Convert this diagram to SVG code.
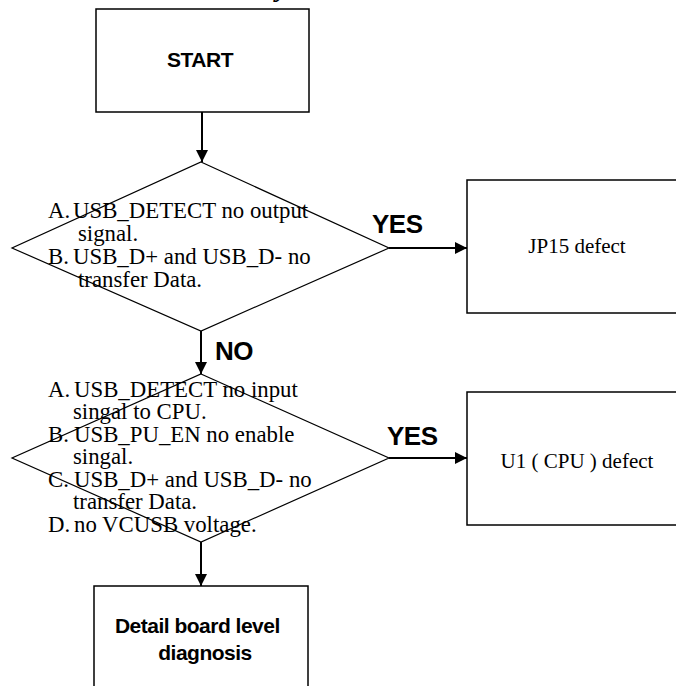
<svg xmlns="http://www.w3.org/2000/svg" width="676" height="686" viewBox="0 0 676 686">
<defs>
<marker id="ah" viewBox="0 0 10 10" refX="10" refY="5" markerWidth="6" markerHeight="6" markerUnits="strokeWidth" orient="auto">
<path d="M0,0 L10,5 L0,10 z" fill="#000"/>
</marker>
</defs>
<style>
.box{fill:#fff;stroke:#000;stroke-width:1.5}
.dia{fill:#fff;stroke:#000;stroke-width:1.2}
.conn{fill:none;stroke:#000;stroke-width:2;marker-end:url(#ah)}
.bold{font-family:"Liberation Sans",Arial,sans-serif;font-weight:bold;fill:#000}
.serif{font-family:"Liberation Serif","Times New Roman",serif;fill:#000}
</style>
<rect width="676" height="686" fill="#fff"/>
<text class="serif" x="276" y="-4" font-size="28" font-weight="bold" font-style="italic">y</text>
<g id="connectors">
<line class="conn" x1="202" y1="112" x2="202" y2="162"/>
<line class="conn" x1="389" y1="248" x2="467" y2="248"/>
<line class="conn" x1="201" y1="331" x2="201" y2="374"/>
<line class="conn" x1="389" y1="458" x2="467" y2="458"/>
<line class="conn" x1="201" y1="542" x2="201" y2="586"/>
<text class="bold" x="372" y="233" font-size="26" letter-spacing="-0.5">YES</text>
<text class="bold" x="215" y="360" font-size="26" letter-spacing="-0.5">NO</text>
<text class="bold" x="387" y="445" font-size="26" letter-spacing="-0.5">YES</text>
</g>
<g id="start">
<rect class="box" x="96" y="9" width="213" height="103"/>
<text class="bold" x="200" y="67" font-size="21" text-anchor="middle" letter-spacing="-0.5">START</text>
</g>
<g id="decision1">
<polygon class="dia" points="201,162 389,248 201,331 12,248"/>
<text class="serif" font-size="22.8">
<tspan x="48" y="218">A.</tspan><tspan x="73" y="218">USB_DETECT no output</tspan>
<tspan x="78" y="241">signal.</tspan>
<tspan x="48" y="264">B.</tspan><tspan x="73" y="264">USB_D+ and USB_D- no</tspan>
<tspan x="78" y="287">transfer Data.</tspan>
</text>
</g>
<g id="jp15">
<rect class="box" x="467" y="180" width="215" height="133"/>
<text class="serif" x="577" y="253" font-size="21" text-anchor="middle">JP15 defect</text>
</g>
<g id="decision2">
<polygon class="dia" points="201,374 389,458 201,542 12,458"/>
<text class="serif" font-size="22.8">
<tspan x="48" y="397">A.</tspan><tspan x="74" y="397">USB_DETECT no input</tspan>
<tspan x="73" y="419">singal to CPU.</tspan>
<tspan x="48" y="442">B.</tspan><tspan x="74" y="442">USB_PU_EN no enable</tspan>
<tspan x="73" y="464">singal.</tspan>
<tspan x="48" y="487">C.</tspan><tspan x="74" y="487">USB_D+ and USB_D- no</tspan>
<tspan x="73" y="509">transfer Data.</tspan>
<tspan x="48" y="532">D.</tspan><tspan x="74" y="532">no VCUSB voltage.</tspan>
</text>
</g>
<g id="u1">
<rect class="box" x="467" y="392" width="215" height="133"/>
<text class="serif" x="577" y="468" font-size="21" text-anchor="middle">U1 ( CPU ) defect</text>
</g>
<g id="detail">
<rect class="box" x="94" y="586" width="214" height="110"/>
<text class="bold" font-size="21" text-anchor="middle" letter-spacing="-0.5">
<tspan x="200" y="633">Detail board level</tspan>
<tspan x="205" y="660">diagnosis</tspan>
</text>
</g>
</svg>
